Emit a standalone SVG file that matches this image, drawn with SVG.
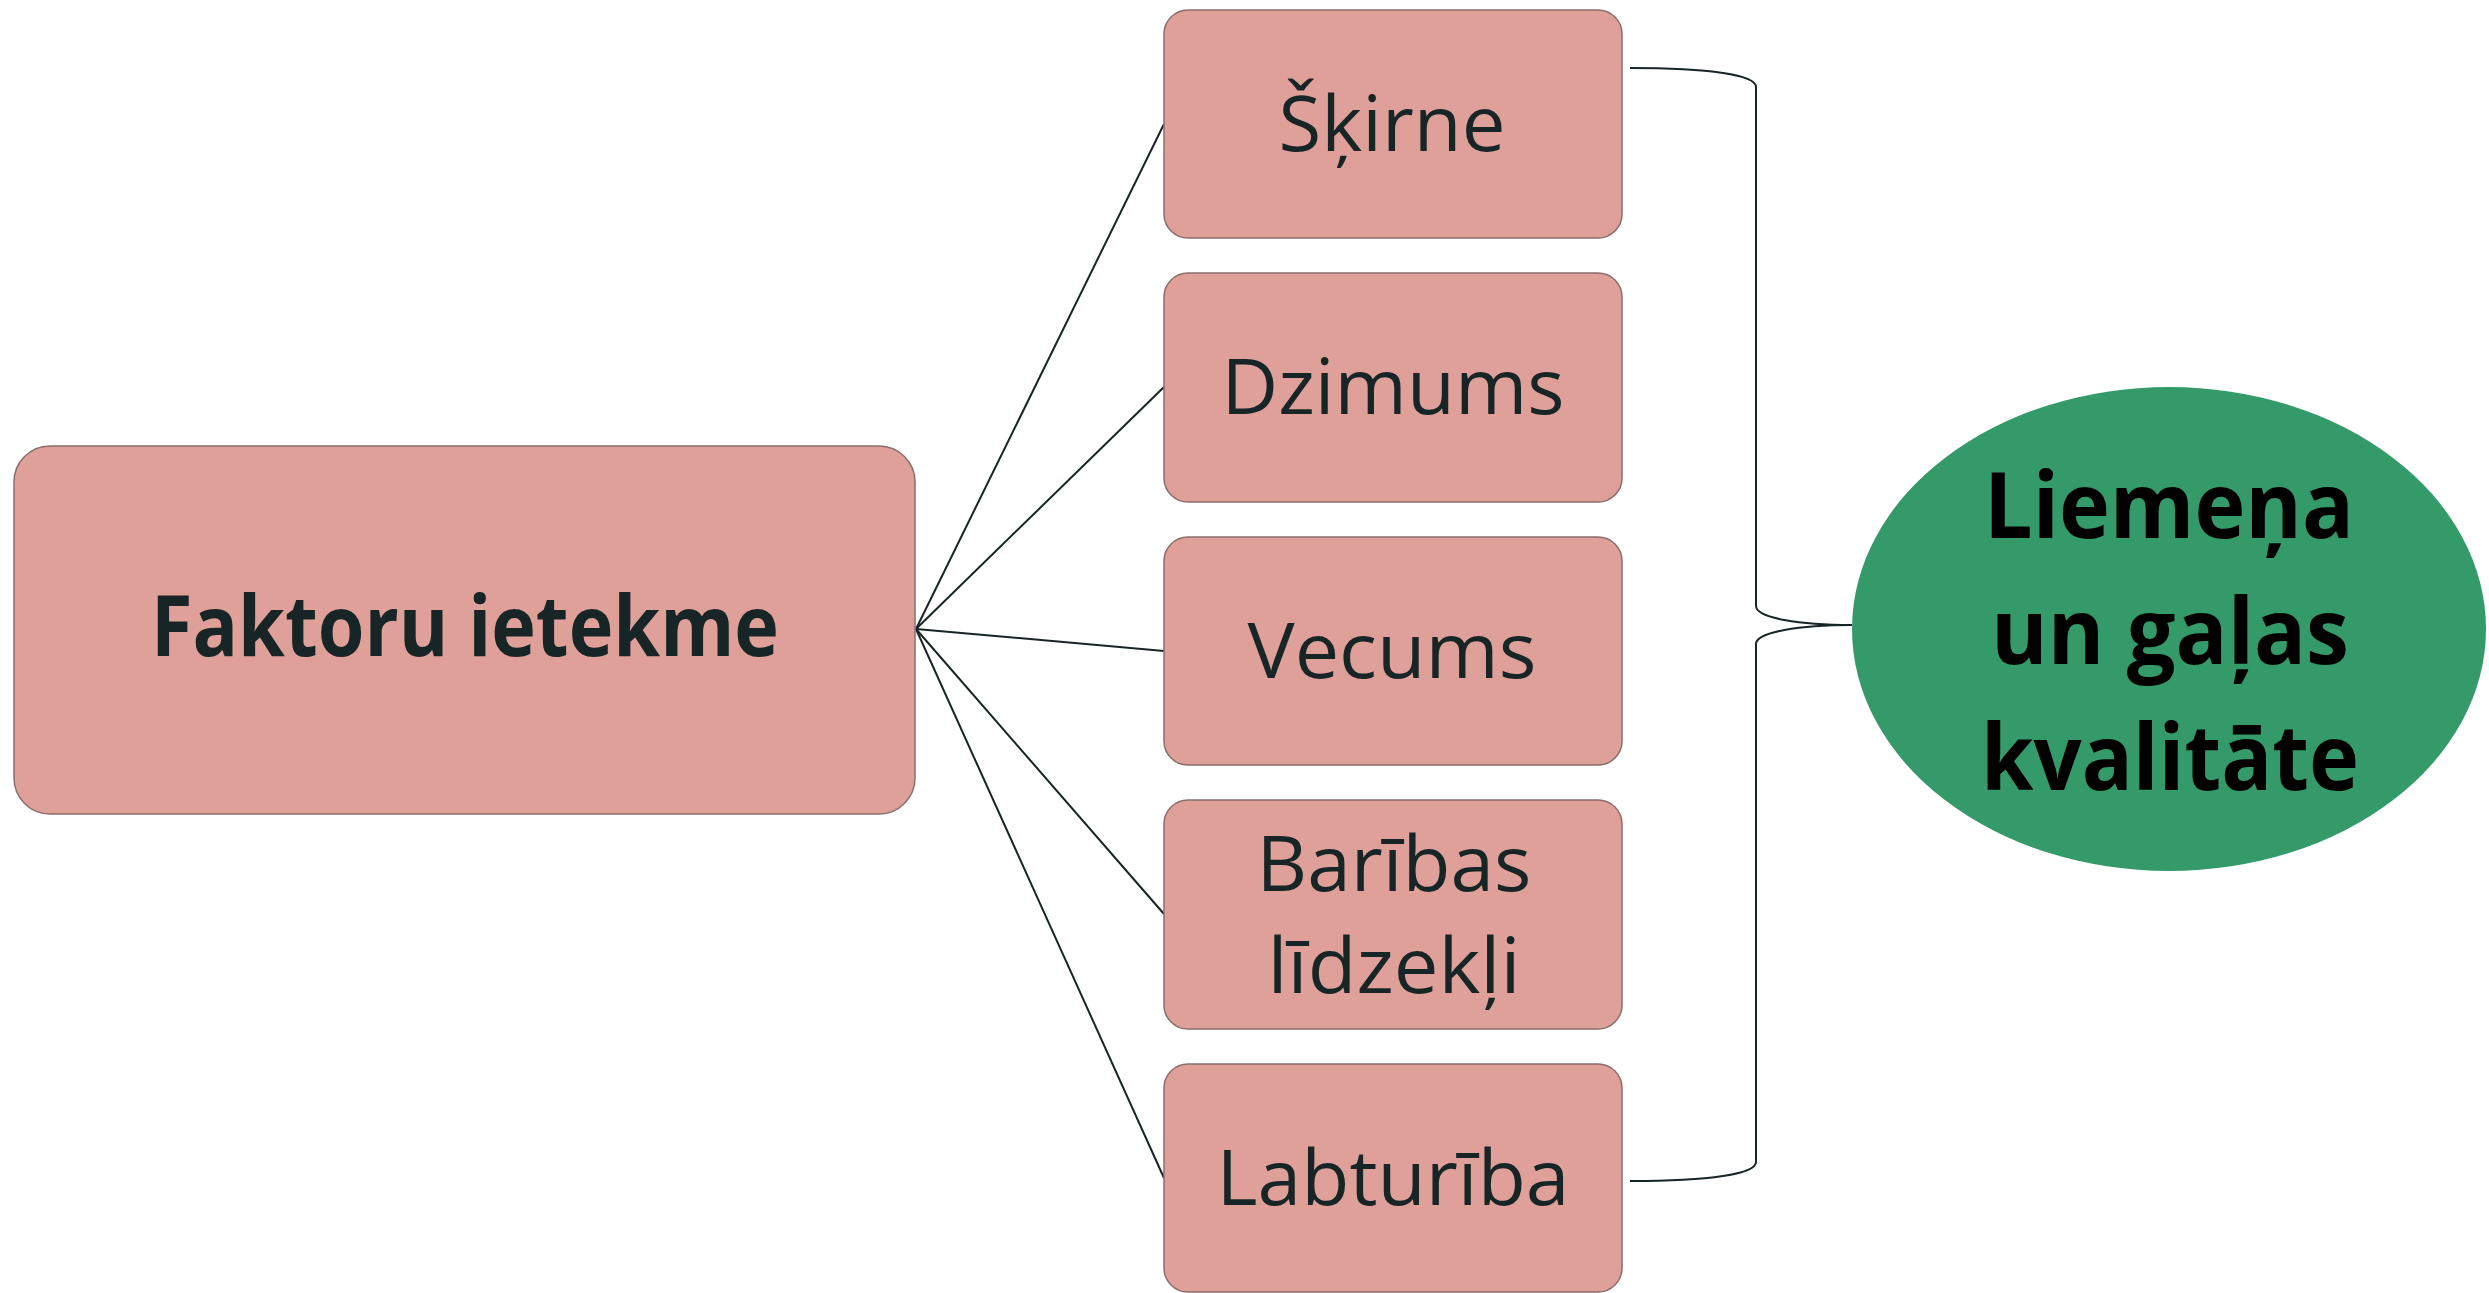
<svg xmlns="http://www.w3.org/2000/svg" width="2489" height="1293" viewBox="0 0 2489 1293">
<style>
.box{fill:#DFA09A;stroke:#8A6E6C;stroke-width:1.5}
.t{font-family:"Open Sans","Noto Sans","Liberation Sans",sans-serif;font-size:77px;fill:#172526;text-anchor:middle}
.tb{font-family:"Open Sans","Noto Sans","Liberation Sans",sans-serif;font-weight:bold;text-anchor:middle}
.conn{fill:none;stroke:#172526;stroke-width:2}
</style>
<rect width="2489" height="1293" fill="#FFFFFF"/>
<g id="connectors">
<line class="conn" x1="916" y1="629" x2="1164" y2="124"/>
<line class="conn" x1="916" y1="629" x2="1164" y2="387"/>
<line class="conn" x1="916" y1="629" x2="1164" y2="651"/>
<line class="conn" x1="916" y1="629" x2="1164" y2="914"/>
<line class="conn" x1="916" y1="629" x2="1164" y2="1178"/>
<path class="conn" d="M1630,68 C1710,68 1756,75 1756,87 L1756,606 C1756,618 1800,625 1852,625"/>
<path class="conn" d="M1852,625 C1800,625 1756,632 1756,644 L1756,1162 C1756,1174 1710,1181 1630,1181"/>
</g>
<g id="node-faktoru">
<rect class="box" x="14" y="446" width="901" height="368" rx="36"/>
<text class="tb" x="465" y="656" font-size="84" fill="#172526" textLength="628" lengthAdjust="spacingAndGlyphs">Faktoru ietekme</text>
</g>
<g id="node-skirne">
<rect class="box" x="1164" y="10" width="458" height="228" rx="24"/>
<text class="t" x="1392" y="151" textLength="227" lengthAdjust="spacingAndGlyphs">Šķirne</text>
</g>
<g id="node-dzimums">
<rect class="box" x="1164" y="273" width="458" height="229" rx="24"/>
<text class="t" x="1393" y="414" textLength="343" lengthAdjust="spacingAndGlyphs">Dzimums</text>
</g>
<g id="node-vecums">
<rect class="box" x="1164" y="537" width="458" height="228" rx="24"/>
<text class="t" x="1392" y="678" textLength="289" lengthAdjust="spacingAndGlyphs">Vecums</text>
</g>
<g id="node-baribas">
<rect class="box" x="1164" y="800" width="458" height="229" rx="24"/>
<text class="t" x="1394" y="891" textLength="275" lengthAdjust="spacingAndGlyphs">Barības</text>
<text class="t" x="1394" y="993" textLength="253" lengthAdjust="spacingAndGlyphs">līdzekļi</text>
</g>
<g id="node-labturiba">
<rect class="box" x="1164" y="1064" width="458" height="228" rx="24"/>
<text class="t" x="1393" y="1205" textLength="353" lengthAdjust="spacingAndGlyphs">Labturība</text>
</g>
<g id="node-kvalitate">
<ellipse cx="2169" cy="629" rx="317" ry="242" fill="#349A69"/>
<text class="tb" x="2169" y="538" font-size="92" fill="#000000" textLength="370" lengthAdjust="spacingAndGlyphs">Liemeņa</text>
<text class="tb" x="2170" y="664" font-size="92" fill="#000000" textLength="358" lengthAdjust="spacingAndGlyphs">un gaļas</text>
<text class="tb" x="2170" y="790" font-size="92" fill="#000000" textLength="378" lengthAdjust="spacingAndGlyphs">kvalitāte</text>
</g>
</svg>
